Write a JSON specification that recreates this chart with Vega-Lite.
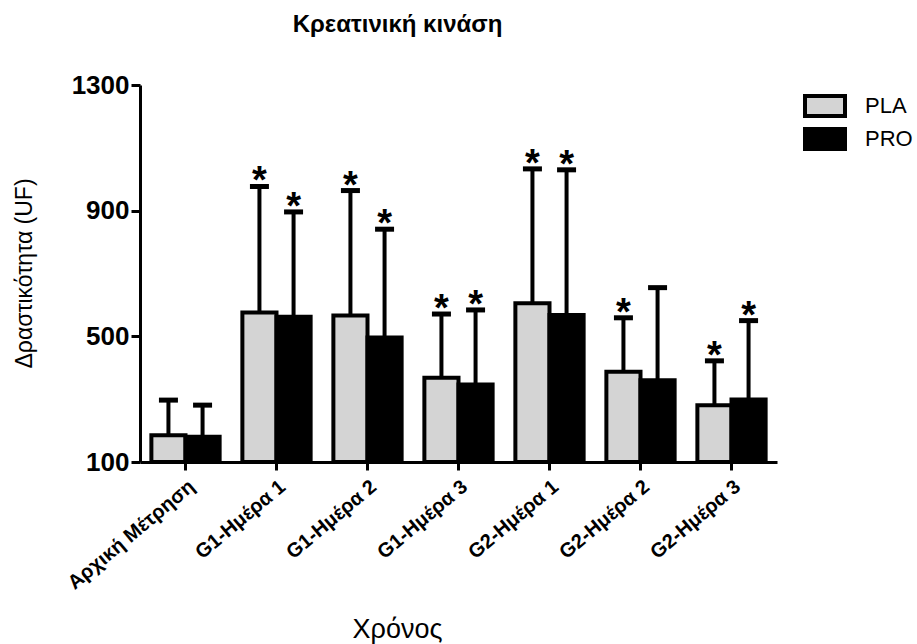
{
  "$schema": "https://vega.github.io/schema/vega-lite/v6.json",
  "width": 637,
  "height": 377,
  "autosize": "none",
  "padding": {"left": 140, "top": 85, "right": 140, "bottom": 182},
  "background": "white",
  "title": {
    "text": "Κρεατινική κινάση",
    "font": "Liberation Sans",
    "fontSize": 24,
    "fontWeight": "bold",
    "color": "black",
    "anchor": "middle",
    "frame": "group",
    "baseline": "alphabetic",
    "offset": 16,
    "dx": -61
  },
  "config": {
    "view": {"stroke": null},
    "font": "Liberation Sans",
    "axis": {"grid": false}
  },
  "data": {
    "values": [
      {"time": "Αρχική Μέτρηση", "group": "PLA", "mean": 185, "upper": 297, "sig": false},
      {"time": "Αρχική Μέτρηση", "group": "PRO", "mean": 180, "upper": 281, "sig": false},
      {"time": "G1-Ημέρα 1", "group": "PLA", "mean": 576, "upper": 977, "sig": true},
      {"time": "G1-Ημέρα 1", "group": "PRO", "mean": 562, "upper": 896, "sig": true},
      {"time": "G1-Ημέρα 2", "group": "PLA", "mean": 566, "upper": 964, "sig": true},
      {"time": "G1-Ημέρα 2", "group": "PRO", "mean": 496, "upper": 841, "sig": true},
      {"time": "G1-Ημέρα 3", "group": "PLA", "mean": 368, "upper": 571, "sig": true},
      {"time": "G1-Ημέρα 3", "group": "PRO", "mean": 347, "upper": 584, "sig": true},
      {"time": "G2-Ημέρα 1", "group": "PLA", "mean": 605, "upper": 1033, "sig": true},
      {"time": "G2-Ημέρα 1", "group": "PRO", "mean": 568, "upper": 1030, "sig": true},
      {"time": "G2-Ημέρα 2", "group": "PLA", "mean": 387, "upper": 559, "sig": true},
      {"time": "G2-Ημέρα 2", "group": "PRO", "mean": 360, "upper": 655, "sig": false},
      {"time": "G2-Ημέρα 3", "group": "PLA", "mean": 281, "upper": 422, "sig": true},
      {"time": "G2-Ημέρα 3", "group": "PRO", "mean": 299, "upper": 550, "sig": true}
    ]
  },
  "encoding": {
    "x": {
      "field": "time",
      "type": "nominal",
      "sort": null,
      "scale": {"paddingInner": 0.25, "paddingOuter": 0.125},
      "axis": {
        "title": "Χρόνος",
        "titleFont": "Liberation Sans",
        "titleFontSize": 27,
        "titleFontWeight": "normal",
        "titleColor": "black",
        "titleX": 257,
        "titleY": 175,
        "titleAlign": "center",
        "titleBaseline": "alphabetic",
        "labelAngle": -40,
        "labelFont": "Liberation Sans",
        "labelFontSize": 20,
        "labelFontWeight": "bold",
        "labelColor": "black",
        "labelPadding": 6,
        "domainColor": "black",
        "domainWidth": 3,
        "tickColor": "black",
        "tickWidth": 3,
        "tickSize": 8
      }
    },
    "xOffset": {
      "field": "group",
      "type": "nominal",
      "scale": {"paddingInner": 0, "paddingOuter": 0}
    }
  },
  "layer": [
    {
      "mark": {"type": "bar", "stroke": "black", "strokeWidth": 4, "strokeJoin": "miter"},
      "encoding": {
        "y": {
          "field": "mean",
          "type": "quantitative",
          "scale": {"domain": [100, 1300], "nice": false, "zero": false},
          "axis": {
            "values": [100, 500, 900, 1300],
            "format": "d",
            "title": "Δραστικότητα (UF)",
            "titleFont": "Liberation Sans",
            "titleFontSize": 23,
            "titleFontWeight": "normal",
            "titleColor": "black",
            "titleX": -116,
            "titleY": 188,
            "titleAlign": "center",
            "titleBaseline": "middle",
            "titleAngle": 270,
            "labelFont": "Liberation Sans",
            "labelFontSize": 26,
            "labelFontWeight": "bold",
            "labelColor": "black",
            "labelPadding": 2,
            "domainColor": "black",
            "domainWidth": 3,
            "tickColor": "black",
            "tickWidth": 3,
            "tickSize": 9
          }
        },
        "y2": {"datum": 100},
        "fill": {
          "field": "group",
          "type": "nominal",
          "scale": {"domain": ["PLA", "PRO"], "range": ["#d4d4d4", "#000000"]},
          "legend": {
            "title": null,
            "orient": "none",
            "legendX": 673,
            "legendY": 9,
            "symbolType": "M-2,-1H2V1H-2Z",
            "symbolSize": 400,
            "symbolStrokeColor": "black",
            "symbolStrokeWidth": 4,
            "symbolOpacity": 1,
            "labelFont": "Liberation Sans",
            "labelFontSize": 22,
            "labelColor": "black",
            "labelOffset": 28,
            "rowPadding": -3
          }
        }
      }
    },
    {
      "mark": {"type": "rule", "color": "black", "strokeWidth": 4},
      "encoding": {
        "y": {"field": "mean", "type": "quantitative"},
        "y2": {"field": "upper"}
      }
    },
    {
      "mark": {"type": "tick", "color": "black", "size": 19, "thickness": 5, "opacity": 1},
      "encoding": {
        "y": {"field": "upper", "type": "quantitative"}
      }
    },
    {
      "transform": [{"filter": "datum.sig"}],
      "mark": {"type": "text", "text": "*", "font": "Liberation Sans", "fontWeight": "bold", "fontSize": 38, "color": "black", "baseline": "alphabetic", "dy": 7},
      "encoding": {
        "y": {"field": "upper", "type": "quantitative"}
      }
    }
  ]
}
